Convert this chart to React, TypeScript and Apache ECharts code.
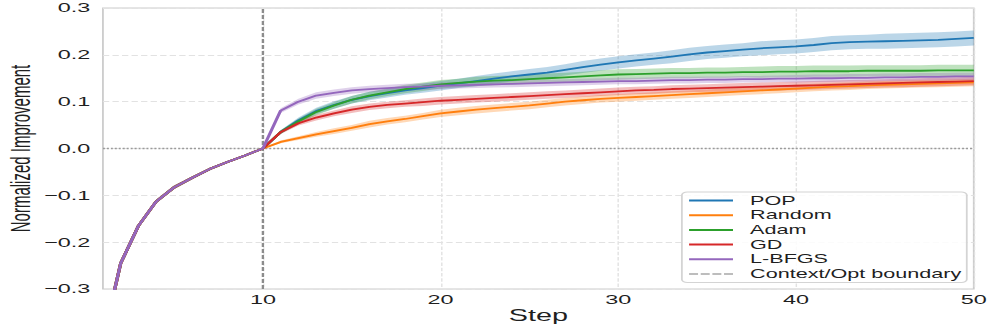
import React, { useEffect, useRef } from 'react';
import * as echarts from 'echarts';

// ---------- data ----------
const STEPS = [
  1, 2, 3, 4, 5, 6, 7, 8, 9, 10,
  11, 12, 13, 14, 15, 16, 17, 18, 19, 20,
  21, 22, 23, 24, 25, 26, 27, 28, 29, 30,
  31, 32, 33, 34, 35, 36, 37, 38, 39, 40,
  41, 42, 43, 44, 45, 46, 47, 48, 49, 50,
];
const X_TICKS = [10, 20, 30, 40, 50];
const BOUNDARY_STEP = 10;

// shared context phase (steps 1..10)
const CONTEXT = [-0.41, -0.245, -0.165, -0.113, -0.083, -0.063, -0.044, -0.029, -0.015, 0.0];
const CONTEXT_SPREAD = [0.008, 0.006, 0.005, 0.004, 0.004, 0.003, 0.003, 0.002, 0.002, 0.0];

// optimisation phase (steps 11..50)
const POP = [
  0.035, 0.060, 0.080, 0.093, 0.104, 0.112, 0.118, 0.124, 0.129, 0.134,
  0.139, 0.144, 0.149, 0.154, 0.158, 0.162, 0.168, 0.174, 0.179, 0.184,
  0.188, 0.192, 0.196, 0.201, 0.205, 0.208, 0.211, 0.214, 0.216, 0.218,
  0.221, 0.225, 0.227, 0.228, 0.229, 0.230, 0.231, 0.232, 0.234, 0.236,
];
const RANDOM = [
  0.014, 0.022, 0.030, 0.037, 0.044, 0.052, 0.058, 0.063, 0.069, 0.075,
  0.079, 0.083, 0.086, 0.089, 0.092, 0.096, 0.100, 0.103, 0.106, 0.108,
  0.110, 0.112, 0.114, 0.116, 0.118, 0.120, 0.122, 0.124, 0.126, 0.128,
  0.130, 0.132, 0.133, 0.135, 0.136, 0.137, 0.138, 0.139, 0.140, 0.141,
];
const ADAM = [
  0.035, 0.058, 0.078, 0.092, 0.104, 0.113, 0.120, 0.127, 0.132, 0.137,
  0.140, 0.143, 0.145, 0.146, 0.148, 0.150, 0.152, 0.154, 0.156, 0.158,
  0.159, 0.160, 0.161, 0.161, 0.162, 0.162, 0.163, 0.163, 0.164, 0.164,
  0.165, 0.165, 0.165, 0.166, 0.166, 0.166, 0.166, 0.167, 0.167, 0.167,
];
const GD = [
  0.035, 0.054, 0.066, 0.075, 0.083, 0.089, 0.093, 0.096, 0.099, 0.102,
  0.104, 0.106, 0.108, 0.110, 0.112, 0.114, 0.116, 0.118, 0.120, 0.122,
  0.124, 0.125, 0.127, 0.128, 0.129, 0.130, 0.131, 0.132, 0.133, 0.134,
  0.135, 0.136, 0.137, 0.138, 0.139, 0.140, 0.141, 0.142, 0.143, 0.144,
];
const LBFGS = [
  0.081, 0.100, 0.113, 0.119, 0.124, 0.127, 0.129, 0.131, 0.132, 0.134,
  0.135, 0.136, 0.137, 0.138, 0.139, 0.140, 0.141, 0.142, 0.143, 0.144,
  0.144, 0.145, 0.146, 0.146, 0.147, 0.147, 0.148, 0.148, 0.149, 0.149,
  0.150, 0.150, 0.151, 0.151, 0.152, 0.152, 0.153, 0.153, 0.154, 0.154,
];

// half-widths of the shaded bands (steps 11..50)
const POP_SPREAD = [
  0.004, 0.006, 0.007, 0.008, 0.008, 0.009, 0.009, 0.009, 0.010, 0.010,
  0.010, 0.011, 0.011, 0.011, 0.012, 0.012, 0.012, 0.013, 0.013, 0.013,
  0.013, 0.013, 0.014, 0.014, 0.014, 0.014, 0.014, 0.015, 0.015, 0.015,
  0.015, 0.015, 0.015, 0.015, 0.016, 0.016, 0.016, 0.016, 0.016, 0.016,
];
const RANDOM_SPREAD = [
  0.003, 0.004, 0.005, 0.006, 0.006, 0.007, 0.007, 0.007, 0.007, 0.008,
  0.008, 0.008, 0.008, 0.008, 0.008, 0.008, 0.008, 0.008, 0.008, 0.008,
  0.008, 0.008, 0.008, 0.008, 0.008, 0.008, 0.008, 0.008, 0.008, 0.008,
  0.008, 0.008, 0.008, 0.008, 0.008, 0.008, 0.008, 0.008, 0.008, 0.008,
];
const ADAM_SPREAD = [
  0.004, 0.006, 0.007, 0.007, 0.008, 0.008, 0.008, 0.009, 0.009, 0.009,
  0.009, 0.010, 0.010, 0.010, 0.010, 0.010, 0.010, 0.010, 0.011, 0.011,
  0.011, 0.011, 0.011, 0.011, 0.011, 0.011, 0.011, 0.012, 0.012, 0.012,
  0.012, 0.012, 0.012, 0.012, 0.012, 0.012, 0.012, 0.012, 0.012, 0.012,
];
const GD_SPREAD = [
  0.004, 0.005, 0.006, 0.006, 0.007, 0.007, 0.007, 0.007, 0.008, 0.008,
  0.008, 0.008, 0.008, 0.008, 0.008, 0.008, 0.008, 0.008, 0.008, 0.008,
  0.008, 0.008, 0.008, 0.008, 0.008, 0.009, 0.009, 0.009, 0.009, 0.009,
  0.009, 0.009, 0.009, 0.009, 0.009, 0.009, 0.009, 0.009, 0.009, 0.009,
];
const LBFGS_SPREAD = [
  0.005, 0.006, 0.007, 0.007, 0.007, 0.007, 0.007, 0.007, 0.007, 0.007,
  0.007, 0.007, 0.007, 0.007, 0.007, 0.007, 0.007, 0.007, 0.007, 0.007,
  0.007, 0.007, 0.007, 0.007, 0.007, 0.007, 0.007, 0.007, 0.007, 0.008,
  0.008, 0.008, 0.008, 0.008, 0.008, 0.008, 0.008, 0.008, 0.008, 0.008,
];

const METHODS = [
  { name: 'POP', color: '#1f77b4', values: POP, spread: POP_SPREAD },
  { name: 'Random', color: '#ff7f0e', values: RANDOM, spread: RANDOM_SPREAD },
  { name: 'Adam', color: '#2ca02c', values: ADAM, spread: ADAM_SPREAD },
  { name: 'GD', color: '#d62728', values: GD, spread: GD_SPREAD },
  { name: 'L-BFGS', color: '#9467bd', values: LBFGS, spread: LBFGS_SPREAD },
];
const BOUNDARY_NAME = 'Context/Opt boundary';

// ---------- layout ----------
const W = 554; // chart drawn narrower and stretched horizontally like the reference
const H = 327;
const SX = 997 / W;
const FONT = '"Liberation Sans", Arial, Helvetica, sans-serif';
const TEXT = '#1f1f1f';

function hexA(hex: string, a: number) {
  const n = parseInt(hex.slice(1), 16);
  return `rgba(${(n >> 16) & 255},${(n >> 8) & 255},${n & 255},${a})`;
}

function bandSeries(name: string, color: string, mean: number[], spread: number[]) {
  const data = STEPS.map((s, i) => [s, mean[i] - spread[i], mean[i] + spread[i]]);
  return {
    type: 'custom',
    name: name + ' band',
    silent: true,
    clip: true,
    data,
    encode: { x: 0, y: [1, 2] },
    renderItem: (params: any, api: any) => {
      if (params.dataIndex !== 0) return null;
      const up = data.map((d) => api.coord([d[0], d[2]]));
      const lo = data.map((d) => api.coord([d[0], d[1]])).reverse();
      return {
        type: 'polygon',
        shape: { points: up.concat(lo) },
        style: { fill: hexA(color, 0.3), stroke: 'none' },
      };
    },
  };
}

export default function App() {
  const ref = useRef<HTMLDivElement>(null);

  useEffect(() => {
    if (!ref.current) return;
    const chart = echarts.init(ref.current, undefined, { renderer: 'svg' });

    const series: any[] = [];
    METHODS.forEach((m) => {
      const mean = CONTEXT.concat(m.values);
      const spread = CONTEXT_SPREAD.concat(m.spread);
      series.push(bandSeries(m.name, m.color, mean, spread));
      series.push({
        type: 'line',
        name: m.name,
        data: STEPS.map((s, i) => [s, mean[i]]),
        showSymbol: false,
        symbol: 'none',
        clip: true,
        color: m.color,
        itemStyle: { color: m.color },
        lineStyle: { color: m.color, width: 1.8 },
      });
    });
    // horizontal zero reference (dotted)
    series.push({
      type: 'line',
      name: 'zero',
      data: [[STEPS[0], 0], [STEPS[STEPS.length - 1], 0]],
      showSymbol: false,
      symbol: 'none',
      silent: true,
      color: '#9a9a9a',
      lineStyle: { color: '#9a9a9a', width: 1.3, type: [1.1, 1.1] },
      z: 1,
    });
    // context / optimisation boundary (dashed)
    series.push({
      type: 'line',
      name: BOUNDARY_NAME,
      data: [[BOUNDARY_STEP, -0.3], [BOUNDARY_STEP, 0.3]],
      showSymbol: false,
      symbol: 'none',
      silent: true,
      color: '#8c8c8c',
      itemStyle: { color: '#8c8c8c' },
      lineStyle: { color: '#8c8c8c', width: 1.3, type: [4, 2] },
      z: 1,
    });

    const option: any = {
      animation: false,
      textStyle: { fontFamily: FONT, color: TEXT },
      grid: {
        left: 57.2,
        right: 12.9,
        top: 8,
        bottom: 38,
        containLabel: false,
        outerBoundsMode: 'none',
        show: true,
        borderColor: '#cccccc',
        borderWidth: 1,
        backgroundColor: 'transparent',
      },
      legend: {
        orient: 'vertical',
        left: 378.9,
        top: 192,
        padding: [2, 3, 2, 4],
        itemWidth: 24.4,
        itemHeight: 2,
        itemGap: 1.7,
        backgroundColor: 'rgba(255,255,255,0.85)',
        borderColor: '#d4d4d4',
        borderWidth: 1,
        borderRadius: 3,
        selectedMode: false,
        itemStyle: { borderWidth: 0 },
        textStyle: { fontFamily: FONT, fontSize: 12, color: TEXT, lineHeight: 13, padding: [0, 0, 0, 4.5] },
        data: [
          ...METHODS.map((m) => ({ name: m.name, icon: 'rect' })),
          {
            name: BOUNDARY_NAME,
            icon: 'path://M0,0h5v2h-5zM6.5,0h5v2h-5zM13,0h5v2h-5zM19.5,0h5v2h-5z',
            itemStyle: { color: '#bdbdbd', borderWidth: 0 },
          },
        ],
      },
      xAxis: {
        type: 'value',
        min: STEPS[0],
        max: STEPS[STEPS.length - 1],
        name: 'Step',
        nameLocation: 'middle',
        nameGap: 18,
        nameMoveOverlap: false,
        nameTextStyle: { fontFamily: FONT, fontSize: 16, color: TEXT },
        axisLine: { show: false },
        axisTick: { show: false, customValues: X_TICKS },
        axisLabel: { customValues: X_TICKS, fontSize: 13, color: TEXT, margin: 4, fontFamily: FONT },
        splitLine: { show: true, lineStyle: { color: '#e2e2e2', width: 0.8, type: [3.5, 1.8] } },
      },
      yAxis: {
        type: 'value',
        min: -0.3,
        max: 0.3,
        interval: 0.1,
        name: 'Normalized Improvement',
        nameLocation: 'middle',
        nameGap: 38,
        nameMoveOverlap: false,
        nameTextStyle: { fontFamily: FONT, fontSize: 15, color: TEXT },
        axisLine: { show: false },
        axisTick: { show: false },
        axisLabel: {
          fontSize: 13,
          color: TEXT,
          margin: 7,
          fontFamily: FONT,
          formatter: (v: number) => {
            const r = Math.round(v * 10) / 10;
            return (r < 0 ? '\u2212' : '') + Math.abs(r).toFixed(1);
          },
        },
        splitLine: { show: true, lineStyle: { color: '#e2e2e2', width: 1, type: [3.5, 1.8] } },
      },
      series,
    };

    chart.setOption(option);
    return () => chart.dispose();
  }, []);

  return (
    <div
      style={{
        position: 'fixed',
        left: 0,
        top: 0,
        width: 997,
        height: H,
        overflow: 'hidden',
        background: '#fff',
      }}
    >
      <div
        ref={ref}
        style={{
          width: W,
          height: H,
          transform: `scaleX(${SX})`,
          transformOrigin: '0 0',
        }}
      />
    </div>
  );
}
